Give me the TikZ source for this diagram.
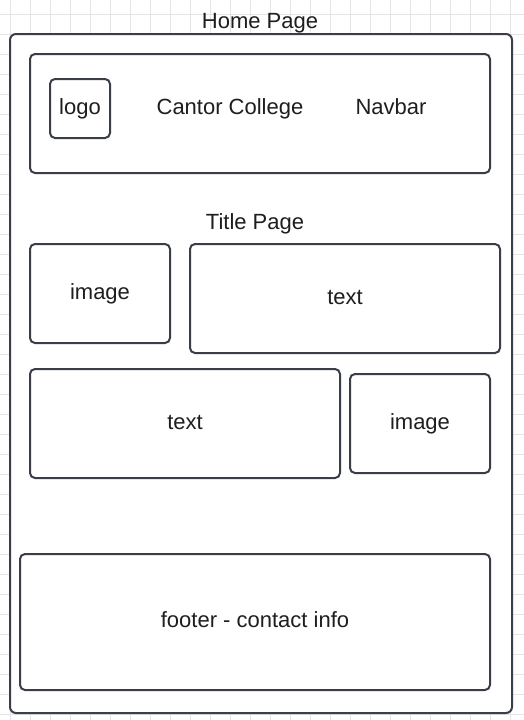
\documentclass[tikz,border=0pt]{standalone}
\usepackage{fontspec}
\setmainfont{Liberation Sans}
\usepackage{xcolor}
\usepackage{tikz}

\definecolor{framegray}{HTML}{3A3E47}
\definecolor{inkgray}{HTML}{1E1E1E}
\definecolor{gridgray}{HTML}{E4E4E4}

\begin{document}
\begin{tikzpicture}[
    x=1pt, y=-1pt,
    every node/.style={font=\fontsize{22}{26}\selectfont, text=inkgray},
    gridline/.style={draw=gridgray, line width=1pt},
    pagebox/.style={rectangle, draw=framegray, fill=white, line width=2pt, rounded corners=6pt, inner sep=0pt},
    block/.style={rectangle, draw=framegray, fill=white, line width=2pt, rounded corners=5pt, inner sep=0pt, text height=15pt, text depth=4pt},
    label/.style={inner sep=0pt}
]
    \useasboundingbox (0,0) rectangle (524,720);
    \fill[white] (0,0) rectangle (524,720);

    % Grid
    \foreach \x in {10,30,...,510}
        \draw[gridline] (\x,0) -- (\x,720);
    \foreach \y in {14,34,...,714}
        \draw[gridline] (0,\y) -- (524,\y);

    % Page
    \node[pagebox, minimum width=502pt, minimum height=679pt] (page) at (261,373.5) {};
    \node[label] (pagetitle) at (260,23) {Home Page};

    % Header
    \node[block, minimum width=460pt, minimum height=119pt] (header) at (260,113.5) {};
    \node[block, minimum width=60pt, minimum height=59pt] (logo) at (80,108.5) {logo};
    \node[label] (college) at (230,109) {Cantor College};
    \node[label] (navbar) at (391,106.5) {Navbar};

    % Title page
    \node[label] (titlepage) at (255,224) {Title Page};
    \node[block, minimum width=140pt, minimum height=99pt] (imageone) at (100,293.5) {image};
    \node[block, minimum width=310pt, minimum height=109pt] (textone) at (345,298.5) {text};
    \node[block, minimum width=310pt, minimum height=109pt] (texttwo) at (185,423.5) {text};
    \node[block, minimum width=140pt, minimum height=99pt] (imagetwo) at (420,423.5) {image};

    % Footer
    \node[block, minimum width=470pt, minimum height=136pt] (footer) at (255,622) {footer - contact info};
\end{tikzpicture}
\end{document}
